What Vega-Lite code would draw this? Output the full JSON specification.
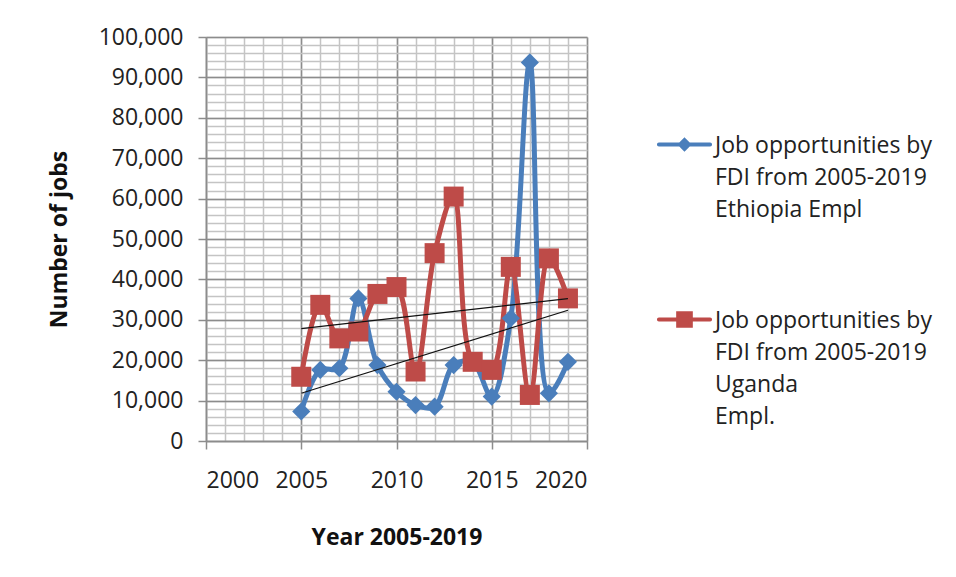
{
  "$schema": "https://vega.github.io/schema/vega-lite/v6.json",
  "width": 381,
  "height": 404,
  "autosize": {"type": "none"},
  "padding": {"left": 206, "top": 37, "right": 369, "bottom": 136},
  "background": "white",
  "config": {
    "font": "Open Sans",
    "view": {"stroke": null}
  },
  "data": {
    "values": [
      {"year": 2005, "series": "Ethiopia", "jobs": 7300},
      {"year": 2006, "series": "Ethiopia", "jobs": 17600},
      {"year": 2007, "series": "Ethiopia", "jobs": 18000},
      {"year": 2008, "series": "Ethiopia", "jobs": 35300},
      {"year": 2009, "series": "Ethiopia", "jobs": 18800},
      {"year": 2010, "series": "Ethiopia", "jobs": 12200},
      {"year": 2011, "series": "Ethiopia", "jobs": 8900},
      {"year": 2012, "series": "Ethiopia", "jobs": 8500},
      {"year": 2013, "series": "Ethiopia", "jobs": 18800},
      {"year": 2014, "series": "Ethiopia", "jobs": 19500},
      {"year": 2015, "series": "Ethiopia", "jobs": 11000},
      {"year": 2016, "series": "Ethiopia", "jobs": 30400},
      {"year": 2017, "series": "Ethiopia", "jobs": 93700},
      {"year": 2018, "series": "Ethiopia", "jobs": 11800},
      {"year": 2019, "series": "Ethiopia", "jobs": 19600},
      {"year": 2005, "series": "Uganda", "jobs": 15900},
      {"year": 2006, "series": "Uganda", "jobs": 33700},
      {"year": 2007, "series": "Uganda", "jobs": 25400},
      {"year": 2008, "series": "Uganda", "jobs": 27100},
      {"year": 2009, "series": "Uganda", "jobs": 36400},
      {"year": 2010, "series": "Uganda", "jobs": 38100},
      {"year": 2011, "series": "Uganda", "jobs": 17200},
      {"year": 2012, "series": "Uganda", "jobs": 46500},
      {"year": 2013, "series": "Uganda", "jobs": 60500},
      {"year": 2014, "series": "Uganda", "jobs": 19600},
      {"year": 2015, "series": "Uganda", "jobs": 17600},
      {"year": 2016, "series": "Uganda", "jobs": 43100},
      {"year": 2017, "series": "Uganda", "jobs": 11400},
      {"year": 2018, "series": "Uganda", "jobs": 45200},
      {"year": 2019, "series": "Uganda", "jobs": 35300}
    ]
  },
  "layer": [
    {
      "description": "Minor gridlines: one per year and every 2,000 jobs",
      "mark": {"type": "line", "opacity": 0},
      "encoding": {
        "x": {
          "field": "year", "type": "quantitative",
          "scale": {"domain": [2000, 2020], "nice": false, "zero": false},
          "axis": {
            "orient": "bottom", "values": [2000,2001,2002,2003,2004,2005,2006,2007,2008,2009,2010,2011,2012,2013,2014,2015,2016,2017,2018,2019,2020],
            "grid": true, "gridColor": "#c4c4c4", "gridWidth": 1.5,
            "labels": false, "ticks": false, "domain": false, "title": null
          }
        },
        "y": {
          "field": "jobs", "type": "quantitative",
          "scale": {"domain": [0, 100000], "nice": false},
          "axis": {
            "orient": "left", "values": [0,2000,4000,6000,8000,10000,12000,14000,16000,18000,20000,22000,24000,26000,28000,30000,32000,34000,36000,38000,40000,42000,44000,46000,48000,50000,52000,54000,56000,58000,60000,62000,64000,66000,68000,70000,72000,74000,76000,78000,80000,82000,84000,86000,88000,90000,92000,94000,96000,98000,100000],
            "grid": true, "gridColor": "#c4c4c4", "gridWidth": 1.5,
            "labels": false, "ticks": false, "domain": false, "title": null
          }
        },
        "detail": {"field": "series"}
      }
    },
    {
      "description": "Major gridlines, tick labels and axis titles",
      "mark": {"type": "line", "opacity": 0},
      "encoding": {
        "x": {
          "field": "year", "type": "quantitative",
          "axis": {
            "orient": "bottom", "values": [2000, 2005, 2010, 2015, 2020], "format": "d",
            "grid": true, "gridColor": "#8c8c8c", "gridWidth": 1.5,
            "domain": true, "domainColor": "#8c8c8c", "domainWidth": 1.5,
            "ticks": true, "tickColor": "#8c8c8c", "tickSize": 8, "tickWidth": 1.5,
            "labelFontSize": 23, "labelColor": "#222222", "labelPadding": 20,
            "title": "Year 2005-2019", "titleFontSize": 23, "titleFontWeight": "bold",
            "titleColor": "#111111", "titlePadding": 34
          }
        },
        "y": {
          "field": "jobs", "type": "quantitative",
          "axis": {
            "orient": "left", "values": [0,10000,20000,30000,40000,50000,60000,70000,80000,90000,100000], "format": ",d",
            "grid": true, "gridColor": "#8c8c8c", "gridWidth": 1.5,
            "domain": true, "domainColor": "#8c8c8c", "domainWidth": 1.5,
            "ticks": true, "tickColor": "#8c8c8c", "tickSize": 8, "tickWidth": 1.5,
            "labelFontSize": 23, "labelColor": "#222222", "labelPadding": 15,
            "title": "Number of jobs", "titleFontSize": 23, "titleFontWeight": "bold",
            "titleColor": "#111111", "titlePadding": 27
          }
        },
        "detail": {"field": "series"}
      }
    },
    {
      "description": "Smoothed series lines",
      "mark": {"type": "line", "interpolate": "catmull-rom", "strokeWidth": 5},
      "encoding": {
        "x": {"field": "year", "type": "quantitative", "axis": null},
        "y": {"field": "jobs", "type": "quantitative", "axis": null},
        "color": {
          "field": "series", "type": "nominal",
          "scale": {"domain": ["Ethiopia", "Uganda"], "range": ["#4a7ebb", "#be4b48"]},
          "legend": {
            "orient": "none", "legendX": 449, "legendY": 78,
            "title": null, "padding": 0, "rowPadding": 68,
            "symbolSize": 3025, "symbolStrokeWidth": 4,
            "labelFontSize": 23, "labelColor": "#222222", "labelLimit": 400,
            "labelOffset": 1, "labelBaseline": "alphabetic",
            "labelExpr": "datum.label === 'Ethiopia' ? ['Job opportunities  by', 'FDI from 2005-2019', 'Ethiopia Empl'] : ['Job opportunities  by', 'FDI from 2005-2019', 'Uganda', 'Empl.']",
            "encode": {
              "symbols": {
                "update": {
                  "shape": {"signal": "datum.value === 'Ethiopia' ? 'M-0.93,0L0.93,0M0,-0.16L0.16,0L0,0.16L-0.16,0Z' : 'M-0.93,0L0.93,0M-0.23,-0.23L0.23,-0.23L0.23,0.23L-0.23,0.23Z'"},
                  "fill": {"signal": "scale('color', datum.value)"},
                  "stroke": {"signal": "scale('color', datum.value)"},
                  "strokeWidth": {"value": 4},
                  "strokeCap": {"value": "round"},
                  "size": {"value": 3025},
                  "opacity": {"value": 1}
                }
              },
              "labels": {
                "update": {
                  "lineHeight": {"value": 32},
                  "dy": {"value": 8}
                }
              }
            }
          }
        },
        "detail": {"field": "series"}
      }
    },
    {
      "description": "Markers: diamonds for Ethiopia, squares for Uganda",
      "mark": {"type": "point", "filled": true, "opacity": 1},
      "encoding": {
        "x": {"field": "year", "type": "quantitative", "axis": null},
        "y": {"field": "jobs", "type": "quantitative", "axis": null},
        "color": {"field": "series", "type": "nominal", "legend": null},
        "shape": {
          "condition": {"test": "datum.series === 'Ethiopia'", "value": "diamond"},
          "value": "square"
        },
        "size": {
          "condition": {"test": "datum.series === 'Ethiopia'", "value": 330},
          "value": 400
        }
      }
    },
    {
      "description": "Linear trend line for each series",
      "transform": [
        {"regression": "jobs", "on": "year", "groupby": ["series"], "method": "linear", "extent": [2005, 2019]}
      ],
      "mark": {"type": "line", "color": "#111111", "strokeWidth": 1.2},
      "encoding": {
        "x": {"field": "year", "type": "quantitative", "axis": null},
        "y": {"field": "jobs", "type": "quantitative", "axis": null},
        "detail": {"field": "series"}
      }
    }
  ],
  "resolve": {"axis": {"x": "independent", "y": "independent"}}
}
